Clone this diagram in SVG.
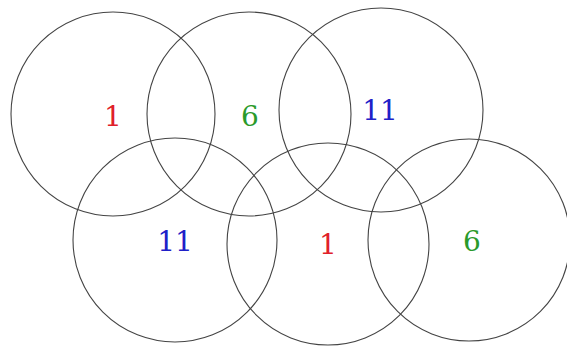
<svg xmlns="http://www.w3.org/2000/svg" width="567" height="347" viewBox="0 0 567 347">
<style>
.c{fill:none;stroke:#444;stroke-width:1.1}
.t{font-family:"DejaVu Serif",serif;font-size:28px;text-anchor:middle}
.r{fill:#e0202a}.g{fill:#2a9a2a}.b{fill:#2020c8}
</style>
<rect width="567" height="347" fill="#fff"/>
<g id="cell1"><circle class="c" cx="113" cy="114" r="102"/><text class="t r" x="113" y="126">1</text></g>
<g id="cell2"><circle class="c" cx="249" cy="114" r="102"/><text class="t g" x="250" y="126">6</text></g>
<g id="cell3"><circle class="c" cx="381" cy="110" r="102"/><text class="t b" x="380" y="120">11</text></g>
<g id="cell4"><circle class="c" cx="175" cy="240" r="102"/><text class="t b" x="175" y="251">11</text></g>
<g id="cell5"><circle class="c" cx="328" cy="244" r="101"/><text class="t r" x="328" y="254">1</text></g>
<g id="cell6"><circle class="c" cx="469" cy="240" r="101"/><text class="t g" x="472" y="251">6</text></g>
</svg>
